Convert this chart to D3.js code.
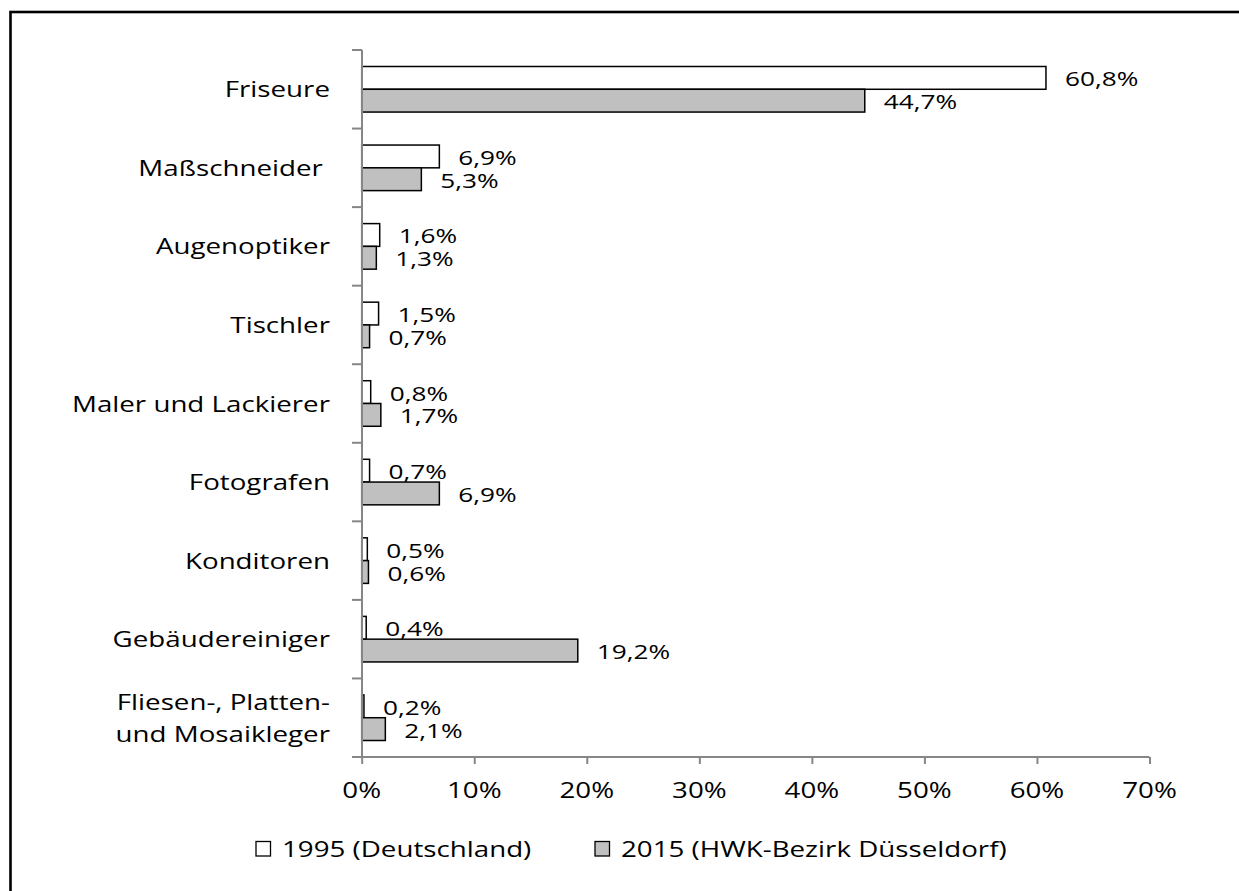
<!DOCTYPE html>
<html><head><meta charset="utf-8">
<script src="https://cdn.jsdelivr.net/npm/d3@7"></script>
<style>html,body{margin:0;padding:0;background:#fff;overflow:hidden}</style>
</head><body>
<svg id="c" width="1239" height="891"></svg>
<script>
const categories = ["Friseure","Maßschneider ","Augenoptiker","Tischler","Maler und Lackierer","Fotografen","Konditoren","Gebäudereiniger","Fliesen-, Platten-\nund Mosaikleger"];
const values1995 = [60.8,6.9,1.6,1.5,0.8,0.7,0.5,0.4,0.2];
const values2015 = [44.7,5.3,1.3,0.7,1.7,6.9,0.6,19.2,2.1];
const seriesNames = ["1995 (Deutschland)","2015 (HWK-Bezirk Düsseldorf)"];
const xTicks = [0,10,20,30,40,50,60,70];

const FONT = "'Open Sans', sans-serif";
const FS = 22;
const FSV = 20.8;
const SX = 1.26;
const fmt = v => v.toFixed(1).replace(".", ",") + "%";

const svg = d3.select("#c");
svg.append("rect").attr("x",10.5).attr("y",12).attr("width",1400).attr("height",1000)
  .attr("fill","#fff").attr("stroke","#000").attr("stroke-width",2.6);

const x = d3.scaleLinear().domain([0,70]).range([361.7,1149.5]);
const y = d3.scaleBand().domain(categories).range([50,757]).paddingInner(0.42).paddingOuter(0.21);
const half = y.bandwidth()/2;

function txt(g, s, px, py, anchor, fs){
  return g.append("text").attr("transform",`translate(${px},${py}) scale(${SX},1)`)
    .attr("font-family",FONT).attr("font-size",fs||FS).attr("fill","#000")
    .attr("text-anchor",anchor).style("white-space","pre").text(s);
}

const series = [{vals:values1995, fill:"#ffffff", off:0},{vals:values2015, fill:"#c0c0c0", off:1}];
const gb = svg.append("g");
series.forEach(s=>{
  gb.selectAll(null).data(categories).enter().append("rect")
    .attr("x",x(0)).attr("y",(d)=>y(d)+s.off*half)
    .attr("width",(d,i)=>x(s.vals[i])-x(0)).attr("height",half)
    .attr("fill",s.fill).attr("stroke","#000").attr("stroke-width",1.5);
  categories.forEach((c,i)=>{
    txt(gb, fmt(s.vals[i]), x(s.vals[i])+19, y(c)+s.off*half+half/2+8.5, "start", FSV);
  });
});

// axes
const axCol = "#868686";
const gx = svg.append("g").attr("transform","translate(0,757)")
  .call(d3.axisBottom(x).tickValues(xTicks).tickSize(7).tickFormat(""));
const gy = svg.append("g").attr("transform","translate(362,0)")
  .call(d3.axisLeft(y).tickSize(0).tickFormat(""));
[gx,gy].forEach(g=>{g.select(".domain").attr("stroke",axCol).attr("stroke-width",2);
  g.selectAll(".tick line").attr("stroke",axCol).attr("stroke-width",2);});
gy.select(".domain").attr("d","M0,50V757");
gx.select(".domain").attr("d",`M${x(0)},0H${x(70)}`);
const bounds = categories.map(c=>y(c)-y.step()*y.paddingInner()/2).concat([757]);
bounds[0]=50;
svg.append("g").selectAll("line").data(bounds).enter().append("line")
  .attr("x1",352).attr("x2",362).attr("y1",d=>d).attr("y2",d=>d)
  .attr("stroke",axCol).attr("stroke-width",2);

const gt = svg.append("g");
xTicks.forEach(t=> txt(gt, t+"%", x(t), 798, "middle"));

const gl = svg.append("g");
categories.forEach(c=>{
  const lines = c.split("\n");
  const cy = y(c)+half;
  lines.forEach((l,k)=>{
    txt(gl, l, 330, cy+8 + (k-(lines.length-1)/2)*32, "end");
  });
});

// legend
const leg = svg.append("g");
const legItems = [{x:256, fill:"#fff", name:seriesNames[0]},{x:595, fill:"#c0c0c0", name:seriesNames[1]}];
legItems.forEach(it=>{
  leg.append("rect").attr("x",it.x).attr("y",841.5).attr("width",14.5).attr("height",14.5)
    .attr("fill",it.fill).attr("stroke","#000").attr("stroke-width",1.3);
  txt(leg, it.name, it.x+26, 857, "start");
});
</script>
</body></html>
